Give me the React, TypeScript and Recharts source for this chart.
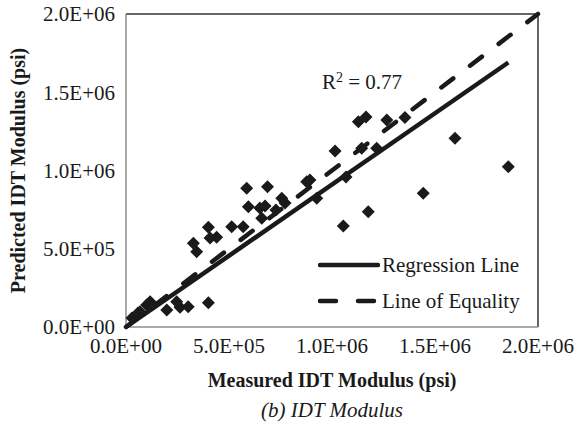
import {
  ScatterChart,
  Scatter,
  XAxis,
  YAxis,
  ZAxis,
  ReferenceLine,
  Legend,
} from "recharts";

const measured = [
  29000, 58000, 68000, 100000, 117000, 198000, 246000, 262000, 302000, 400000,
  327000, 343000, 408000, 400000, 440000, 513000, 569000, 586000, 687000, 594000,
  650000, 675000, 659000, 728000, 756000, 772000, 877000, 893000, 926000, 1015000,
  1068000, 1144000, 1217000, 1128000, 1165000, 1266000, 1354000, 1443000, 1176000,
  1055000, 1597000, 1856000,
];
const predicted = [
  57000, 89000, 98000, 141000, 162000, 109000, 162000, 126000, 130000, 155000,
  535000, 481000, 569000, 637000, 573000, 641000, 641000, 886000, 896000, 769000,
  760000, 773000, 695000, 748000, 822000, 792000, 928000, 939000, 822000, 1125000,
  958000, 1142000, 1142000, 1312000, 1342000, 1323000, 1339000, 854000, 737000,
  645000, 1206000, 1024000,
];

const regressionX = [0, 1856000];
const regressionY = [0, 1690000];
const equalityX = [0, 2000000];
const equalityY = [0, 2000000];

const axisTicks = [0, 500000, 1000000, 1500000, 2000000];
const tickLabels = ["0.0E+00", "5.0E+05", "1.0E+06", "1.5E+06", "2.0E+06"];
const legendNames = ["Regression Line", "Line of Equality"];

const points = measured.map((x, i) => ({ x, y: predicted[i] }));
const regression = regressionX.map((x, i) => ({ x, y: regressionY[i] }));
const equality = equalityX.map((x, i) => ({ x, y: equalityY[i] }));

const font = "'Liberation Serif', 'Times New Roman', serif";
const ink = "#1a1a1a";
const fmt = (v: number) => tickLabels[axisTicks.indexOf(v)] ?? String(v);

const NoDot = () => <g />;

// square diamond marker, like Excel's
const Diamond = (props: any) => {
  const { cx, cy } = props;
  const r = 6.5;
  return (
    <polygon
      points={`${cx},${cy - r} ${cx + r},${cy} ${cx},${cy + r} ${cx - r},${cy}`}
      fill={ink}
    />
  );
};

function LegendBox() {
  return (
    <div style={{ fontFamily: font, fontSize: 21, color: ink, lineHeight: "36px" }}>
      {legendNames.map((name, i) => (
        <div key={name} style={{ display: "flex", alignItems: "center" }}>
          <svg width={62} height={10} style={{ marginRight: 2 }}>
            <line
              x1={2}
              y1={5}
              x2={60}
              y2={5}
              stroke={ink}
              strokeWidth={4.5}
              strokeLinecap="round"
              strokeDasharray={i === 0 ? undefined : "16 22"}
            />
          </svg>
          <span>{name}</span>
        </div>
      ))}
    </div>
  );
}

export default function App() {
  return (
    <div style={{ position: "absolute", left: 0, top: 0, width: 576, height: 433, background: "#fff" }}>
      <ScatterChart
        width={576}
        height={433}
        margin={{ top: 14, right: 38, bottom: 0, left: 0 }}
      >
        <XAxis
          type="number"
          dataKey="x"
          domain={[0, 2000000]}
          ticks={axisTicks}
          tickFormatter={fmt}
          tickLine={false}
          tickSize={5}
          tickMargin={6}
          height={106}
          axisLine={{ stroke: "#8c8c8c", strokeWidth: 1.5 }}
          tick={{ fill: ink, fontSize: 21, fontFamily: font }}
          label={{
            content: ({ viewBox }: any) => (
              <g>
                <text
                  x={viewBox.x + viewBox.width / 2}
                  y={viewBox.y + 60}
                  textAnchor="middle"
                  fontFamily={font}
                  fontSize={20}
                  fontWeight="bold"
                  fill={ink}
                >
                  Measured IDT Modulus (psi)
                </text>
                <text
                  x={viewBox.x + viewBox.width / 2}
                  y={viewBox.y + 90}
                  textAnchor="middle"
                  fontFamily={font}
                  fontSize={21}
                  fontStyle="italic"
                  fill={ink}
                >
                  (b) IDT Modulus
                </text>
              </g>
            ),
          }}
        />
        <YAxis
          type="number"
          dataKey="y"
          domain={[0, 2000000]}
          ticks={axisTicks}
          tickFormatter={fmt}
          tickLine={false}
          tickSize={5}
          tickMargin={6}
          width={126}
          axisLine={{ stroke: "#8c8c8c", strokeWidth: 1.5 }}
          tick={{ fill: ink, fontSize: 21, fontFamily: font }}
          label={{
            content: ({ viewBox }: any) => (
              <text
                x={18}
                y={viewBox.y + viewBox.height / 2}
                transform={`rotate(-90, 18, ${viewBox.y + viewBox.height / 2})`}
                textAnchor="middle"
                dominantBaseline="central"
                fontFamily={font}
                fontSize={20}
                fontWeight="bold"
                fill={ink}
              >
                Predicted IDT Modulus (psi)
              </text>
            ),
          }}
        />
        <ZAxis range={[80, 80]} />
        <ReferenceLine y={2000000} stroke="#333" strokeWidth={1.5} />
        <ReferenceLine x={2000000} stroke="#333" strokeWidth={1.5} />
        <Scatter
          name={legendNames[1]}
          data={equality}
          line={{ stroke: ink, strokeWidth: 4.5, strokeDasharray: "15 21", strokeLinecap: "round" }}
          shape={NoDot}
          isAnimationActive={false}
        />
        <Scatter
          name={legendNames[0]}
          data={regression}
          line={{ stroke: ink, strokeWidth: 4.5 }}
          shape={NoDot}
          isAnimationActive={false}
        />
        <Scatter
          name="Data"
          data={points}
          shape={Diamond}
          fill={ink}
          isAnimationActive={false}
        />
        <Legend
          layout="vertical"
          align="center"
          verticalAlign="middle"
          content={() => <LegendBox />}
          wrapperStyle={{ left: 318, top: 247, width: 220 }}
        />
      </ScatterChart>
      <div
        style={{
          position: "absolute",
          left: 322,
          top: 70,
          fontFamily: font,
          fontSize: 21,
          color: ink,
          whiteSpace: "nowrap",
        }}
      >
        R<sup style={{ fontSize: 14, verticalAlign: "7px", lineHeight: 0 }}>2</sup> = 0.77
      </div>
    </div>
  );
}
